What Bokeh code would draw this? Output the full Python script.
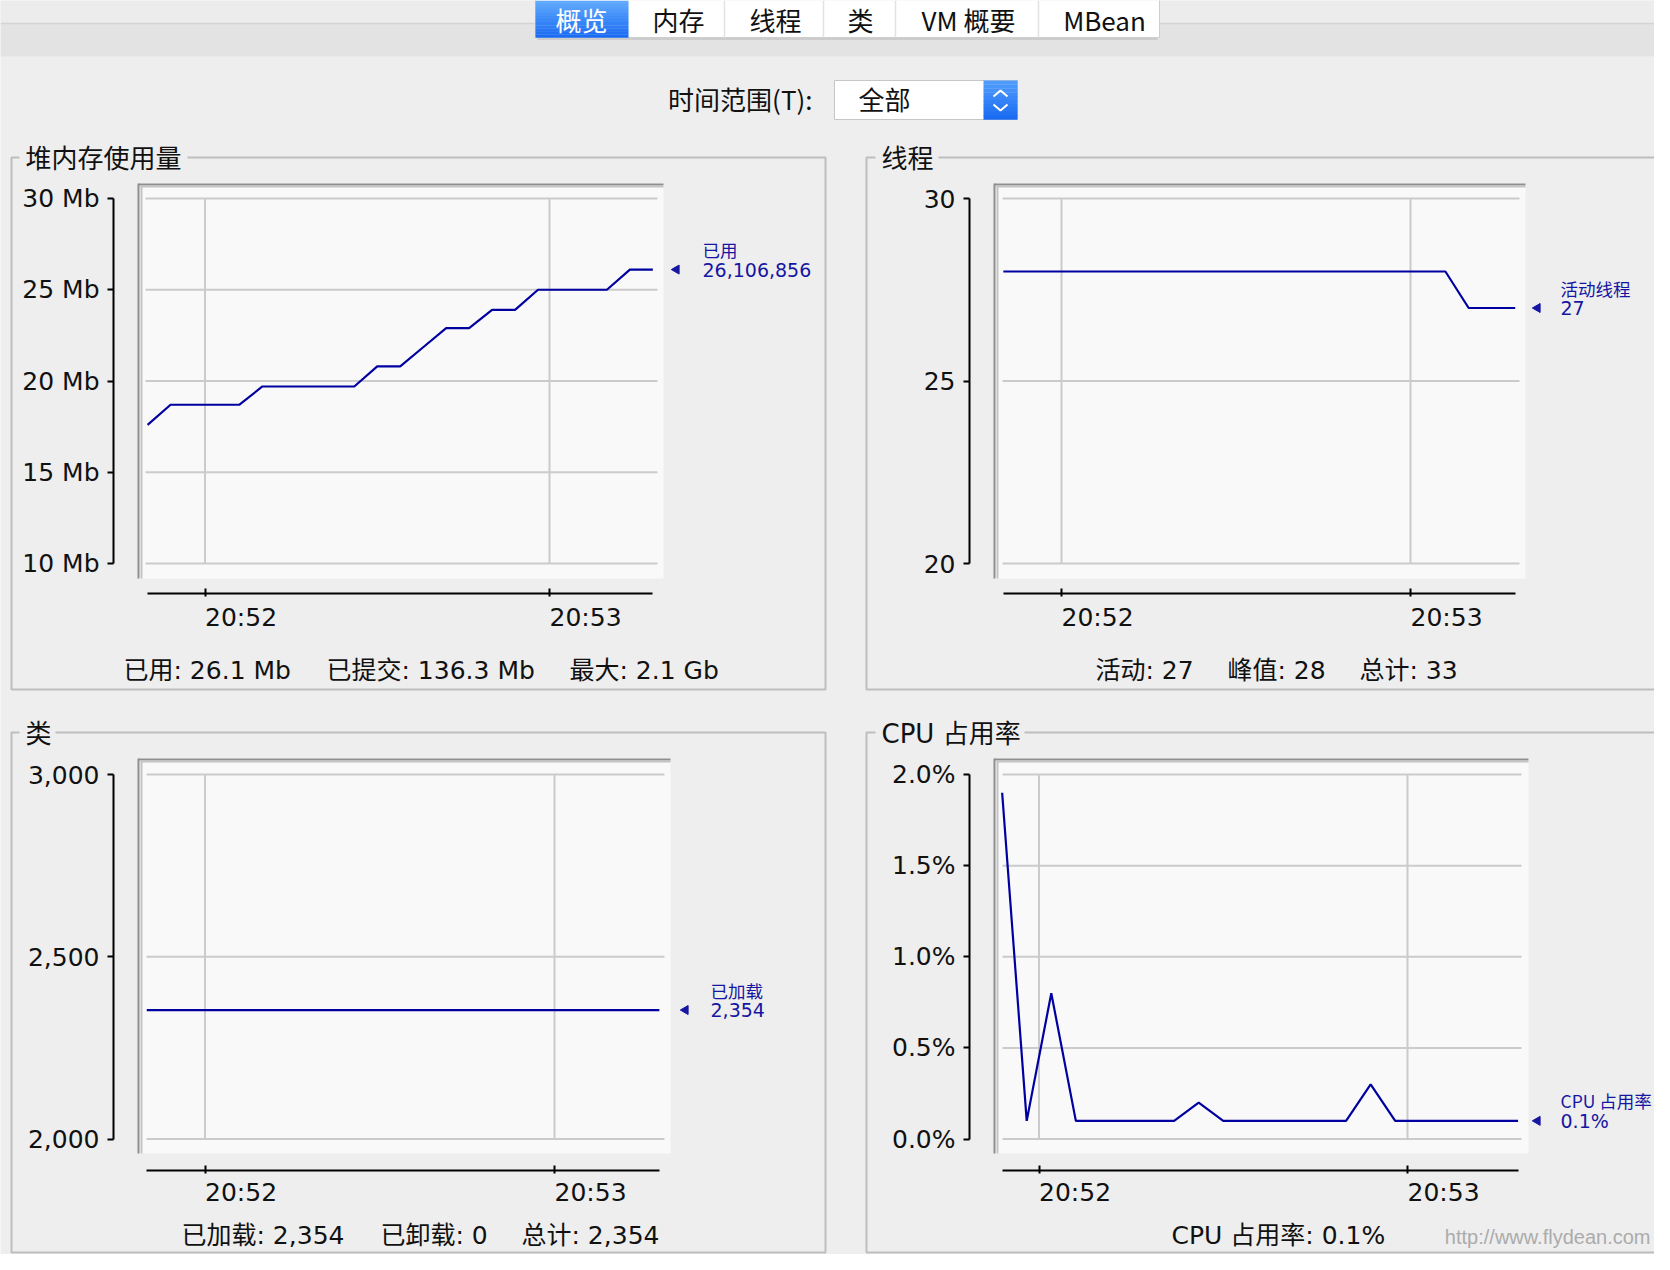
import math
from bokeh.plotting import figure
from bokeh.models import Range1d, LinearAxis, FixedTicker
from bokeh.core.properties import value
from bokeh.embed import file_html
from bokeh.resources import INLINE

# ---------------- data ----------------
TAB_LABELS = ["概览", "内存", "线程", "类", "VM 概要", "MBean"]
TIME_RANGE_LABEL = "时间范围(T):"
TIME_RANGE_CHOICE = "全部"

SAMPLE_TIMES = ["20:51:50", "20:51:54", "20:51:58", "20:52:02", "20:52:06", "20:52:10",
                "20:52:14", "20:52:18", "20:52:22", "20:52:26", "20:52:30", "20:52:34",
                "20:52:38", "20:52:42", "20:52:46", "20:52:50", "20:52:54", "20:52:58",
                "20:53:02", "20:53:06", "20:53:10", "20:53:14", "20:53:18"]
CPU_TIMES = ["20:51:54", "20:51:58", "20:52:02", "20:52:06", "20:52:10", "20:52:14",
             "20:52:18", "20:52:22", "20:52:26", "20:52:30", "20:52:34", "20:52:38",
             "20:52:42", "20:52:46", "20:52:50", "20:52:54", "20:52:58", "20:53:02",
             "20:53:06", "20:53:10", "20:53:14", "20:53:18"]
TIME_TICKS = ["20:52", "20:53"]

HEAP_TITLE = "堆内存使用量"
HEAP_USED_MB = [17.6, 18.7, 18.7, 18.7, 18.7, 19.7, 19.7, 19.7, 19.7, 19.7, 20.8, 20.8,
                21.85, 22.9, 22.9, 23.9, 23.9, 25.0, 25.0, 25.0, 25.0, 26.1, 26.107]
HEAP_TICKS = [10, 15, 20, 25, 30]
HEAP_TICK_LABELS = ["10 Mb", "15 Mb", "20 Mb", "25 Mb", "30 Mb"]
HEAP_ANN_NAME = "已用"
HEAP_ANN_VALUE = "26,106,856"
HEAP_STATS = ["已用: 26.1 Mb", "已提交: 136.3 Mb", "最大: 2.1 Gb"]

THREAD_TITLE = "线程"
THREADS_LIVE = [28, 28, 28, 28, 28, 28, 28, 28, 28, 28, 28, 28,
                28, 28, 28, 28, 28, 28, 28, 28, 27, 27, 27]
THREAD_TICKS = [20, 25, 30]
THREAD_TICK_LABELS = ["20", "25", "30"]
THREAD_ANN_NAME = "活动线程"
THREAD_ANN_VALUE = "27"
THREAD_STATS = ["活动: 27", "峰值: 28", "总计: 33"]

CLASS_TITLE = "类"
CLASSES_LOADED = [2354, 2354, 2354, 2354, 2354, 2354, 2354, 2354, 2354, 2354, 2354, 2354,
                  2354, 2354, 2354, 2354, 2354, 2354, 2354, 2354, 2354, 2354, 2354]
CLASS_TICKS = [2000, 2500, 3000]
CLASS_TICK_LABELS = ["2,000", "2,500", "3,000"]
CLASS_ANN_NAME = "已加载"
CLASS_ANN_VALUE = "2,354"
CLASS_STATS = ["已加载: 2,354", "已卸载: 0", "总计: 2,354"]

CPU_TITLE = "CPU 占用率"
CPU_PCT = [1.9, 0.1, 0.8, 0.1, 0.1, 0.1, 0.1, 0.1, 0.2, 0.1, 0.1, 0.1,
           0.1, 0.1, 0.1, 0.3, 0.1, 0.1, 0.1, 0.1, 0.1, 0.1]
CPU_TICKS = [0.0, 0.5, 1.0, 1.5, 2.0]
CPU_TICK_LABELS = ["0.0%", "0.5%", "1.0%", "1.5%", "2.0%"]
CPU_ANN_NAME = "CPU 占用率"
CPU_ANN_VALUE = "0.1%"
CPU_STATS = ["CPU 占用率: 0.1%"]

WATERMARK = "http://www.flydean.com"

# ---------------- style ----------------
BG = "#eeeeee"
LINE_BLUE = "#0000a0"
TEXT_BLUE = "#1616a2"
GRID = "#cbcbcb"
CJK = "Noto Sans CJK SC"
LAT = "DejaVu Sans"
MIX = "DejaVu Sans, Noto Sans CJK SC"

X0, X1, Y0, Y1 = 0, 1654, 0, 1254
REF_SEC = 20 * 3600 + 52 * 60


def to_sec(s):
    parts = [int(v) for v in s.split(":")]
    while len(parts) < 3:
        parts.append(0)
    return parts[0] * 3600 + parts[1] * 60 + parts[2] - REF_SEC


def mix(c1, c2, t):
    a = [int(c1[i:i + 2], 16) for i in (1, 3, 5)]
    b = [int(c2[i:i + 2], 16) for i in (1, 3, 5)]
    return "#%02x%02x%02x" % tuple(round(a[k] + (b[k] - a[k]) * t) for k in range(3))


p = figure(width=1654, height=1254, x_range=Range1d(X0, X1), y_range=Range1d(Y1, Y0),
           x_axis_location=None, y_axis_location=None, toolbar_location=None,
           output_backend="svg", min_border=0, background_fill_color=BG,
           border_fill_color=BG, outline_line_color=None)
p.grid.visible = False


def txt(x, y, t, font=CJK, size="25px", color="#111111", align="left", **kw):
    p.text(x=x, y=y, text=t, text_font=value(font), text_font_size=value(size),
           text_color=color, text_align=align, text_baseline="middle", **kw)


def strips(left, right, top, bottom, c1, c2, n=10):
    h = (bottom - top) / n
    p.quad(left=[left] * n, right=[right] * n,
           top=[top + i * h for i in range(n)], bottom=[top + (i + 1) * h + 0.3 for i in range(n)],
           fill_color=[mix(c1, c2, i / (n - 1)) for i in range(n)], line_color=None)


# ---------------- window chrome ----------------
p.quad(left=[X0], right=[X1], top=[Y0], bottom=[23], fill_color="#ececec", line_color=None)
p.quad(left=[X0], right=[X1], top=[23], bottom=[56], fill_color="#e3e3e3", line_color=None)
p.segment(x0=[X0], x1=[X1], y0=[23], y1=[23], line_color="#d3d3d3", line_width=1.5)

# tab bar
p.quad(left=[535], right=[1159], top=[Y0 - 10], bottom=[37], fill_color="white",
       line_color="#cdcdcd", line_width=1)
p.segment(x0=[537], x1=[1157], y0=[38.5], y1=[38.5], line_color="#c4c4c4", line_width=1.5)
strips(535, 628, Y0, 37, "#62aafd", "#1a6cf2", n=12)
p.segment(x0=[724, 823, 895, 1038], x1=[724, 823, 895, 1038], y0=[Y0] * 4, y1=[37] * 4,
          line_color="#e2e2e2", line_width=1.5)
TAB_X = [581, 678, 775, 860, 968, 1104]
txt(TAB_X, [19] * 6, TAB_LABELS, font=CJK, size="26px",
    color=["white"] + ["#111111"] * 5, align="center")

# time range selector
txt([812], [98], [TIME_RANGE_LABEL], size="26px", align="right")
p.quad(left=[834], right=[1017], top=[80], bottom=[119], fill_color="white",
       line_color="#c6c6c6", line_width=1)
strips(983, 1017, 80, 119, "#4f9bfb", "#1b6cf2", n=10)
p.multi_line(xs=[[993, 1000, 1007], [993, 1000, 1007]], ys=[[96, 90, 96], [104, 110, 104]],
             line_color="white", line_width=2)
txt([858], [98], [TIME_RANGE_CHOICE], size="26px")

# ---------------- panels ----------------
PANELS = [
    (11, 825, 157, 689, HEAP_TITLE, 25, 19, 187),
    (866, 1700, 157, 689, THREAD_TITLE, 881, 875, 938),
    (11, 825, 732, 1252, CLASS_TITLE, 25, 19, 55),
    (866, 1700, 732, 1252, CPU_TITLE, 881, 875, 1024),
]
for (l, r, t, b, title, tx, g0, g1) in PANELS:
    p.quad(left=[l], right=[r], top=[t], bottom=[b], fill_color=None,
           line_color="#bebebe", line_width=2)
    p.quad(left=[g0], right=[g1], top=[t - 6], bottom=[t + 6], fill_color=BG, line_color=None)
    txt([tx], [t + 1], [title], font=MIX, size="26px")

# ---------------- charts ----------------
CHARTS = [
    dict(key="heap", times=SAMPLE_TIMES, vals=HEAP_USED_MB, yticks=HEAP_TICKS,
         ylabels=HEAP_TICK_LABELS, xcal=(204.5, 549.0), ycal=((198.0, 30), (563.0, 10)),
         axis_x=113, axis_y=593, box=(138, 663, 183, 578), hgrid=(145, 657), label_y=617,
         tri_x=676, ann_x=702, ann_name=HEAP_ANN_NAME, ann_value=HEAP_ANN_VALUE,
         stats=HEAP_STATS, stats_x=[123, 326, 569], stats_y=670),
    dict(key="thr", times=SAMPLE_TIMES, vals=THREADS_LIVE, yticks=THREAD_TICKS,
         ylabels=THREAD_TICK_LABELS, xcal=(1061.0, 1410.0), ycal=((198.0, 30), (563.0, 20)),
         axis_x=969, axis_y=593, box=(994, 1525, 183, 578), hgrid=(1002, 1519), label_y=617,
         tri_x=1537, ann_x=1560, ann_name=THREAD_ANN_NAME, ann_value=THREAD_ANN_VALUE,
         stats=THREAD_STATS, stats_x=[1095, 1227, 1359], stats_y=670),
    dict(key="cls", times=SAMPLE_TIMES, vals=CLASSES_LOADED, yticks=CLASS_TICKS,
         ylabels=CLASS_TICK_LABELS, xcal=(204.5, 554.0), ycal=((774.0, 3000), (1138.6, 2000)),
         axis_x=113, axis_y=1169.5, box=(138, 670, 758, 1153), hgrid=(146, 664), label_y=1192,
         tri_x=685, ann_x=710, ann_name=CLASS_ANN_NAME, ann_value=CLASS_ANN_VALUE,
         stats=CLASS_STATS, stats_x=[181, 380, 521], stats_y=1235),
    dict(key="cpu", times=CPU_TIMES, vals=CPU_PCT, yticks=CPU_TICKS,
         ylabels=CPU_TICK_LABELS, xcal=(1038.5, 1407.0), ycal=((774.0, 2.0), (1138.6, 0.0)),
         axis_x=969, axis_y=1169.5, box=(994, 1528, 758, 1153), hgrid=(1002, 1521), label_y=1192,
         tri_x=1537, ann_x=1560, ann_name=CPU_ANN_NAME, ann_value=CPU_ANN_VALUE,
         stats=CPU_STATS, stats_x=[1171], stats_y=1235),
]

t_ticks = [to_sec(s) for s in TIME_TICKS]

for c in CHARTS:
    key = c["key"]
    pa, pb = c["xcal"]
    (qa, va), (qb, vb) = c["ycal"]

    def fx(px):
        return t_ticks[0] + (px - pa) * (t_ticks[1] - t_ticks[0]) / (pb - pa)

    def fy(py):
        return va + (py - qa) * (vb - va) / (qb - qa)

    xr, yr = key + "_x", key + "_y"
    p.extra_x_ranges[xr] = Range1d(fx(X0), fx(X1))
    p.extra_y_ranges[yr] = Range1d(fy(Y1), fy(Y0))

    # plot box with inset shadow on top/left
    bl, br, bt, bb = c["box"]
    p.quad(left=[bl], right=[br], top=[bt], bottom=[bb], fill_color="#f9f9f9", line_color=None)
    p.segment(x0=[bl, bl], x1=[br, bl], y0=[bt + 1, bt], y1=[bt + 1, bb],
              line_color="#8e8e8e", line_width=2)
    p.segment(x0=[bl + 2, bl + 3], x1=[br, bl + 3], y0=[bt + 3, bt + 2], y1=[bt + 3, bb],
              line_color="#c4c4c4", line_width=2)

    yt = c["yticks"]
    n = len(yt)
    # horizontal grid
    p.segment(x0=[c["hgrid"][0]] * n, x1=[c["hgrid"][1]] * n, y0=yt, y1=yt,
              y_range_name=yr, line_color=GRID, line_width=2)
    # vertical grid
    p.segment(x0=t_ticks, x1=t_ticks, y0=[min(yt)] * 2, y1=[max(yt)] * 2,
              x_range_name=xr, y_range_name=yr, line_color=GRID, line_width=2)

    secs = [to_sec(s) for s in c["times"]]
    p.line(x=secs, y=c["vals"], x_range_name=xr, y_range_name=yr,
           line_color=LINE_BLUE, line_width=2.2)

    # y axis
    ya = LinearAxis(x_range_name=xr, y_range_name=yr, fixed_location=fx(c["axis_x"]),
                    bounds=(min(yt), max(yt)), ticker=FixedTicker(ticks=yt, minor_ticks=[]),
                    major_label_overrides=dict(zip(yt, c["ylabels"])),
                    axis_line_color="black", axis_line_width=2,
                    major_tick_line_color="black", major_tick_line_width=2,
                    major_tick_out=6, major_tick_in=0, minor_tick_out=0, minor_tick_in=0,
                    major_label_standoff=8, major_label_text_font=LAT,
                    major_label_text_font_size="25px", major_label_text_color="#111111")
    p.add_layout(ya, "left")

    # x axis
    xa = LinearAxis(x_range_name=xr, y_range_name=yr, fixed_location=fy(c["axis_y"]),
                    bounds=(secs[0], secs[-1]), ticker=FixedTicker(ticks=t_ticks, minor_ticks=[]),
                    axis_line_color="black", axis_line_width=2,
                    major_tick_line_color="black", major_tick_line_width=2,
                    major_tick_out=3, major_tick_in=5, minor_tick_out=0, minor_tick_in=0,
                    major_label_text_color=None)
    p.add_layout(xa, "below")

    # time tick labels, left-aligned at the tick
    p.text(x=t_ticks, y=[c["label_y"]] * 2, text=TIME_TICKS, x_range_name=xr,
           text_font=value(LAT), text_font_size=value("25px"), text_color="#111111",
           text_align="left", text_baseline="middle")

    # current value marker
    last = c["vals"][-1]
    p.scatter(x=[c["tri_x"]], y=[last], y_range_name=yr, marker="triangle",
              angle=math.pi / 2, size=9, fill_color=TEXT_BLUE, line_color=TEXT_BLUE)
    p.text(x=[c["ann_x"]], y=[last], text=[c["ann_value"]], y_range_name=yr,
           text_font=value(MIX), text_font_size=value("19px"), text_color=TEXT_BLUE,
           text_align="left", text_baseline="middle")
    p.text(x=[c["ann_x"]], y=[last], text=[c["ann_name"]], y_range_name=yr, y_offset=-20,
           text_font=value(CJK), text_font_size=value("17.5px"), text_color=TEXT_BLUE,
           text_align="left", text_baseline="middle")

    # summary line
    m = len(c["stats"])
    txt(c["stats_x"], [c["stats_y"]] * m, c["stats"], font=MIX, size="25px")

# watermark
txt([1650], [1236], [WATERMARK], font="Liberation Sans", size="20px", color="#ababab",
    align="right")

open("out.html", "w").write(file_html(p, INLINE))
